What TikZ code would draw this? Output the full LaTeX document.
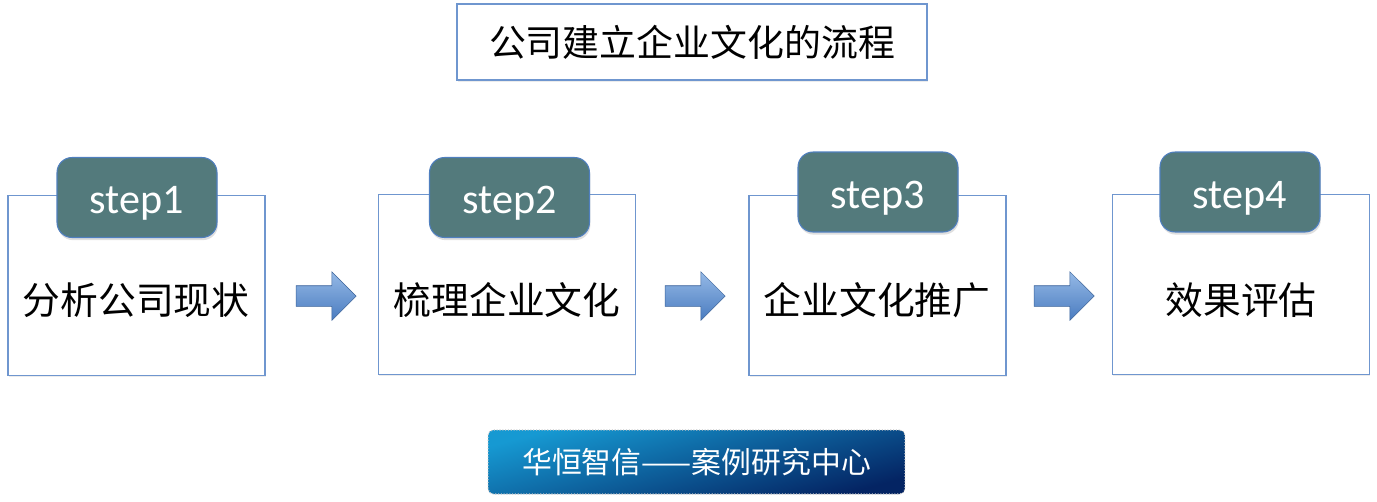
\documentclass[tikz,border=0pt]{standalone}
\usepackage{fontspec}
\setmainfont{Carlito}
\newfontfamily\cjk{Noto Sans CJK SC}
\usetikzlibrary{shapes.arrows,shadows}
\definecolor{boxline}{HTML}{6F96CF}
\definecolor{tabfill}{HTML}{537A7C}
\definecolor{tabline}{HTML}{4F7FBF}
\definecolor{arrowtop}{HTML}{95B9E6}
\definecolor{arrowbot}{HTML}{4A7CC0}
\definecolor{bannertop}{HTML}{1699D2}
\definecolor{bannerbot}{HTML}{042463}

\begin{document}
\begin{tikzpicture}[x=0.02cm,y=-0.02cm]
	\tikzstyle{stepbox}=[rectangle,draw=boxline,line width=0.8pt,fill=white,minimum width=5.14cm,minimum height=3.6cm,drop shadow={opacity=0.15,shadow xshift=0.5pt,shadow yshift=-1pt}]
	\tikzstyle{steptab}=[rectangle,rounded corners=0.3cm,draw=tabline,line width=0.6pt,fill=tabfill,minimum width=3.2cm,minimum height=1.6cm,text=white,font=\fontsize{24}{28}\selectfont,text height=0.75cm,text depth=0.1cm,drop shadow={opacity=0.25,shadow xshift=0.5pt,shadow yshift=-1.5pt}]
	\tikzstyle{steptext}=[font=\cjk\fontsize{21.5}{26}\selectfont]
	\tikzstyle{flow}=[single arrow,draw=arrowbot!80!black,line width=0.3pt,top color=arrowtop,bottom color=arrowbot,inner sep=0pt,text height=0.2cm,text depth=0.2cm,single arrow head extend=0.28cm,minimum height=1.2cm]
	\useasboundingbox (0,0) rectangle (1377,501);
	% title
	\node[rectangle,draw=boxline,line width=0.8pt,minimum width=9.4cm,minimum height=1.52cm,font=\cjk\fontsize{21}{25}\selectfont,drop shadow={opacity=0.15,shadow xshift=0.5pt,shadow yshift=-1pt},fill=white](title) at (692,42) {公司建立企业文化的流程};
	% boxes
	\node[stepbox](b1) at (136.5,285.5) {};
	\node[stepbox](b2) at (507,284.5) {};
	\node[stepbox](b3) at (877.5,285.5) {};
	\node[stepbox](b4) at (1241,284.5) {};
	\node[steptab](s1) at (137,197.5) {step1};
	\node[steptab](s2) at (509.5,197.5) {step2};
	\node[steptab](s3) at (878,192) {step3};
	\node[steptab](s4) at (1240,192) {step4};
	\node[steptext](t1) at (136,300) {分析公司现状};
	\node[steptext](t2) at (507,300) {梳理企业文化};
	\node[steptext](t3) at (877,300) {企业文化推广};
	\node[steptext](t4) at (1241,300) {效果评估};
	% arrows
	\node[flow](a1) at (321,296) {};
	\node[flow](a2) at (690,296) {};
	\node[flow](a3) at (1059,296) {};
	% banner
	\node[rectangle,rounded corners=3pt,draw=gray!45,densely dotted,line width=0.6pt,shading=axis,top color=bannertop,bottom color=bannerbot,shading angle=15,minimum width=8.34cm,minimum height=1.28cm,text=white,font=\cjk\fontsize{17}{20}\selectfont](banner) at (696.5,462) {华恒智信——案例研究中心};
\end{tikzpicture}
\end{document}
